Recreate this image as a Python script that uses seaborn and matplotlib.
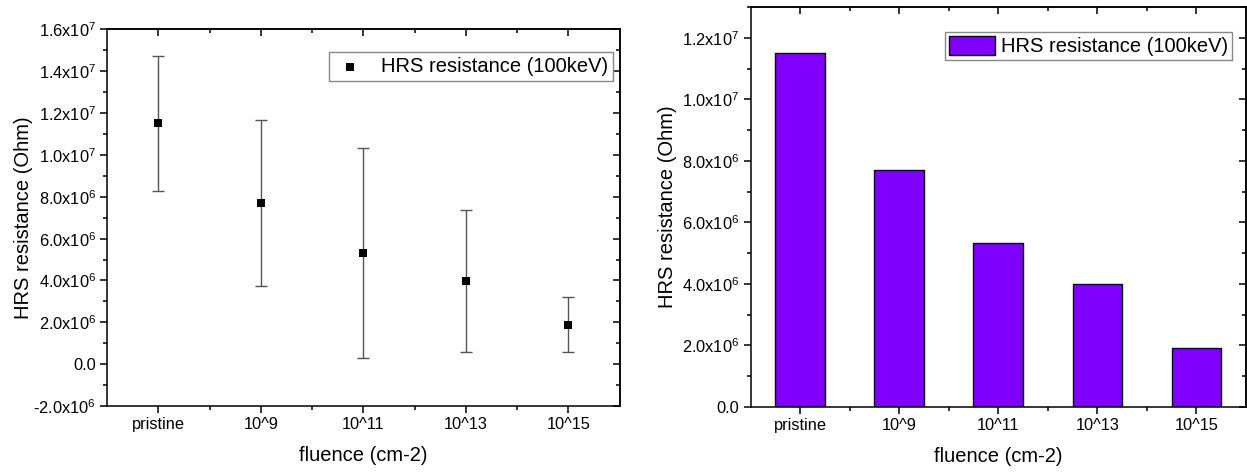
import numpy as np
import matplotlib
matplotlib.use('Agg')
import matplotlib.pyplot as plt
import seaborn as sns
from matplotlib.ticker import FixedLocator, MultipleLocator, FuncFormatter, NullFormatter

# ---- data ----
categories = ['pristine', '10^9', '10^11', '10^13', '10^15']
hrs_mean = [1.151e7, 7.70e6, 5.33e6, 3.975e6, 1.89e6]
hrs_err = [3.23e6, 3.96e6, 5.02e6, 3.40e6, 1.32e6]
bar_values = [1.151e7, 7.71e6, 5.34e6, 3.98e6, 1.90e6]
series_label = 'HRS resistance (100keV)'
x_label = 'fluence (cm-2)'
y_label = 'HRS resistance (Ohm)'

sns.set_style('ticks')
plt.rcParams['font.family'] = ['Liberation Sans', 'DejaVu Sans']
plt.rcParams['mathtext.default'] = 'regular'
for k in ['text.color', 'axes.labelcolor', 'xtick.color', 'ytick.color', 'axes.edgecolor']:
    plt.rcParams[k] = 'black'

TICK_FS = 11.8
LABEL_FS = 14.5
SPINE_W = 1.1


def sci(v, pos):
    if abs(v) < 1:
        return '0.0'
    e = int(np.floor(np.log10(abs(v)) + 1e-9))
    m = v / 10 ** e
    return '%.1fx10$^{%d}$' % (m, e)


def style_axes(ax, ymajor, yminor, ylabelpad):
    n = len(categories)
    ax.set_xlim(-0.5, n - 0.5)
    ax.xaxis.set_major_locator(FixedLocator(list(range(n))))
    ax.set_xticklabels(categories)
    ax.xaxis.set_minor_locator(FixedLocator([i + 0.5 for i in range(n - 1)]))
    ax.yaxis.set_major_locator(MultipleLocator(ymajor))
    ax.yaxis.set_minor_locator(MultipleLocator(yminor))
    ax.yaxis.set_major_formatter(FuncFormatter(sci))
    ax.tick_params(which='major', direction='out', length=5, width=SPINE_W,
                   labelsize=TICK_FS, colors='black', pad=3)
    ax.tick_params(which='minor', direction='out', length=3, width=SPINE_W)
    for s in ax.spines.values():
        s.set_visible(True)
        s.set_linewidth(SPINE_W)
        s.set_color('black')
    # mirrored ticks on top/right, pointing inward
    secx = ax.secondary_xaxis('top')
    secx.xaxis.set_major_locator(FixedLocator(list(range(n))))
    secx.xaxis.set_minor_locator(FixedLocator([i + 0.5 for i in range(n - 1)]))
    secx.xaxis.set_major_formatter(NullFormatter())
    secx.tick_params(which='major', direction='in', length=5, width=SPINE_W)
    secx.tick_params(which='minor', direction='in', length=3, width=SPINE_W)
    secx.spines['top'].set_linewidth(SPINE_W)
    secy = ax.secondary_yaxis('right')
    secy.yaxis.set_major_locator(MultipleLocator(ymajor))
    secy.yaxis.set_minor_locator(MultipleLocator(yminor))
    secy.yaxis.set_major_formatter(NullFormatter())
    secy.tick_params(which='major', direction='in', length=5, width=SPINE_W)
    secy.tick_params(which='minor', direction='in', length=3, width=SPINE_W)
    secy.spines['right'].set_linewidth(SPINE_W)
    ax.set_xlabel(x_label, fontsize=LABEL_FS, labelpad=10)
    ax.set_ylabel(y_label, fontsize=LABEL_FS, labelpad=ylabelpad)


fig = plt.figure(figsize=(12.47, 4.73), dpi=100)
W, H = 1247.0, 473.0
ax1 = fig.add_axes([107 / W, 1 - 406 / H, 512.7 / W, 376.5 / H])
ax2 = fig.add_axes([750.5 / W, 1 - 406.7 / H, 495.5 / W, 399.4 / H])

# ---- left: scatter with error bars ----
xpos = np.arange(len(categories))
ax1.errorbar(xpos, hrs_mean, yerr=hrs_err, fmt='none', ecolor='#555555',
             elinewidth=1.0, capsize=4.5, capthick=1.0, zorder=2)
sns.scatterplot(x=categories, y=hrs_mean, ax=ax1, marker='s', s=36,
                color='black', edgecolor='black', linewidth=0,
                label=series_label, zorder=3)
ax1.set_ylim(-2e6, 1.6e7)
style_axes(ax1, 2e6, 1e6, 0)
leg1 = ax1.legend(loc='upper right', bbox_to_anchor=(613 / W, 1 - 52 / H),
                  bbox_transform=fig.transFigure, borderaxespad=0,
                  fontsize=LABEL_FS, frameon=True, fancybox=False,
                  framealpha=1, edgecolor='#888888', handlelength=1.5,
                  handletextpad=0.8, borderpad=0.25, markerscale=1.0)
leg1.get_frame().set_linewidth(1.0)

# ---- right: bars ----
sns.barplot(x=categories, y=bar_values, ax=ax2, color='#8000ff',
            edgecolor='black', linewidth=1.0, width=0.5, saturation=1,
            label=series_label)
ax2.set_ylim(0, 1.3e7)
style_axes(ax2, 2e6, 1e6, 4)
leg2 = ax2.legend(loc='upper right', bbox_to_anchor=(1232 / W, 1 - 31.7 / H),
                  bbox_transform=fig.transFigure, borderaxespad=0,
                  fontsize=LABEL_FS, frameon=True, fancybox=False,
                  framealpha=1, edgecolor='#888888', handlelength=2.25,
                  handleheight=1.1, handletextpad=0.3, borderpad=0.2)
leg2.get_frame().set_linewidth(1.0)

fig.savefig('out.png', dpi=100)
